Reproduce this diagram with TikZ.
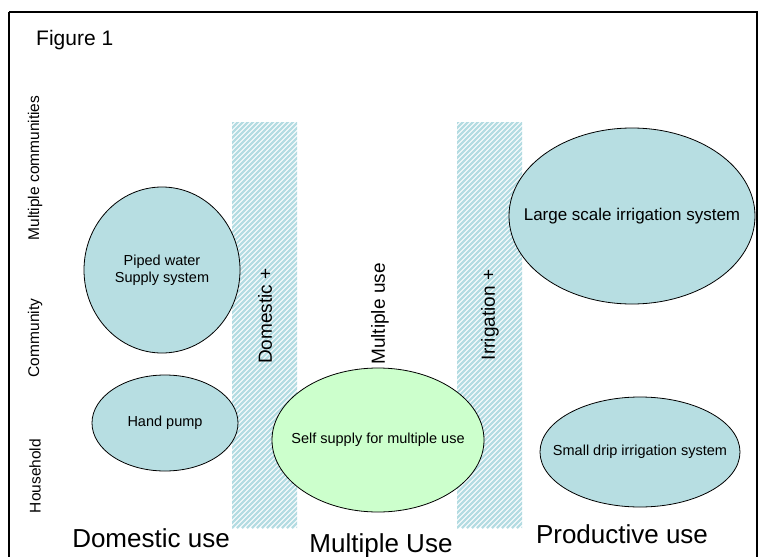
\documentclass[tikz,border=0pt]{standalone}
\usepackage{fontspec}
\setmainfont{Liberation Sans}
\usetikzlibrary{shapes.geometric}
\definecolor{fillblue}{RGB}{183,222,226}
\definecolor{fillgreen}{RGB}{204,255,204}
\definecolor{stripe}{RGB}{180,220,226}
\tikzset{
  blob/.style={ellipse, draw=black, line width=0.8pt, fill=fillblue, inner sep=0pt},
  blobtext/.style={align=center, inner sep=0pt, font=\fontsize{14.5}{17}\selectfont},
  axislab/.style={rotate=90, font=\fontsize{15.5}{18}\selectfont, inner sep=0pt},
  bandlab/.style={rotate=90, font=\fontsize{19}{22}\selectfont, inner sep=0pt},
  catlab/.style={font=\fontsize{26}{30}\selectfont, inner sep=0pt, anchor=base},
  frameline/.style={draw=black}
}
\begin{document}
\begin{tikzpicture}[x=1pt,y=-1pt]
\useasboundingbox (0,0) rectangle (764,557);
\fill[white] (0,0) rectangle (764,557);
% hatched bands
\foreach \bx in {232,457}{
  \begin{scope}
    \clip (\bx,122) rectangle (\bx+65,528);
    \foreach \i in {-420,-415,...,80}{
      \draw[stripe, line width=2.3pt] (\bx+\i,528) -- ++(420,-420);
    }
  \end{scope}
}
% frame
\draw[frameline, line width=2pt] (9,12) -- (9,557);
\draw[frameline, line width=1.2pt] (9,12) -- (757,12) -- (757,557);
% title
\node[anchor=base west, font=\fontsize{21}{24}\selectfont, inner sep=0pt] (title) at (36,45) {Figure 1};
% axis labels
\node[axislab] (mc) at (35,168) {Multiple communities};
\node[axislab] (com) at (35,338) {Community};
\node[axislab] (hh) at (35,476) {Household};
% band labels
\node[bandlab] (dplus) at (265,316) {Domestic +};
\node[bandlab] (mu) at (380,314) {Multiple use};
\node[bandlab] (iplus) at (490,315) {Irrigation +};
% ellipses
\node[blob, minimum width=156pt, minimum height=166pt] (piped) at (162,270) {};
\node[blobtext] (pipedt) at (piped.center) {Piped water\\Supply system};
\node[blob, minimum width=146pt, minimum height=96pt] (hand) at (165,423) {};
\node[blobtext] (handt) at (hand.center) {Hand pump};
\node[blob, fill=fillgreen, minimum width=212pt, minimum height=144pt] (self) at (378,440) {};
\node[blobtext] (selft) at (self.center) {Self supply for multiple use};
\node[blob, minimum width=246pt, minimum height=176pt] (large) at (632,216) {};
\node[blobtext, font=\fontsize{17}{20}\selectfont] (larget) at (large.center) {Large scale irrigation system};
\node[blob, minimum width=200pt, minimum height=110pt] (drip) at (640,452) {};
\node[blobtext] (dript) at (drip.center) {Small drip irrigation system};
% category labels
\node[catlab] (dom) at (151,547) {Domestic use};
\node[catlab] (mult) at (381,552) {Multiple Use};
\node[catlab] (prod) at (622,543) {Productive use};
\end{tikzpicture}
\end{document}
